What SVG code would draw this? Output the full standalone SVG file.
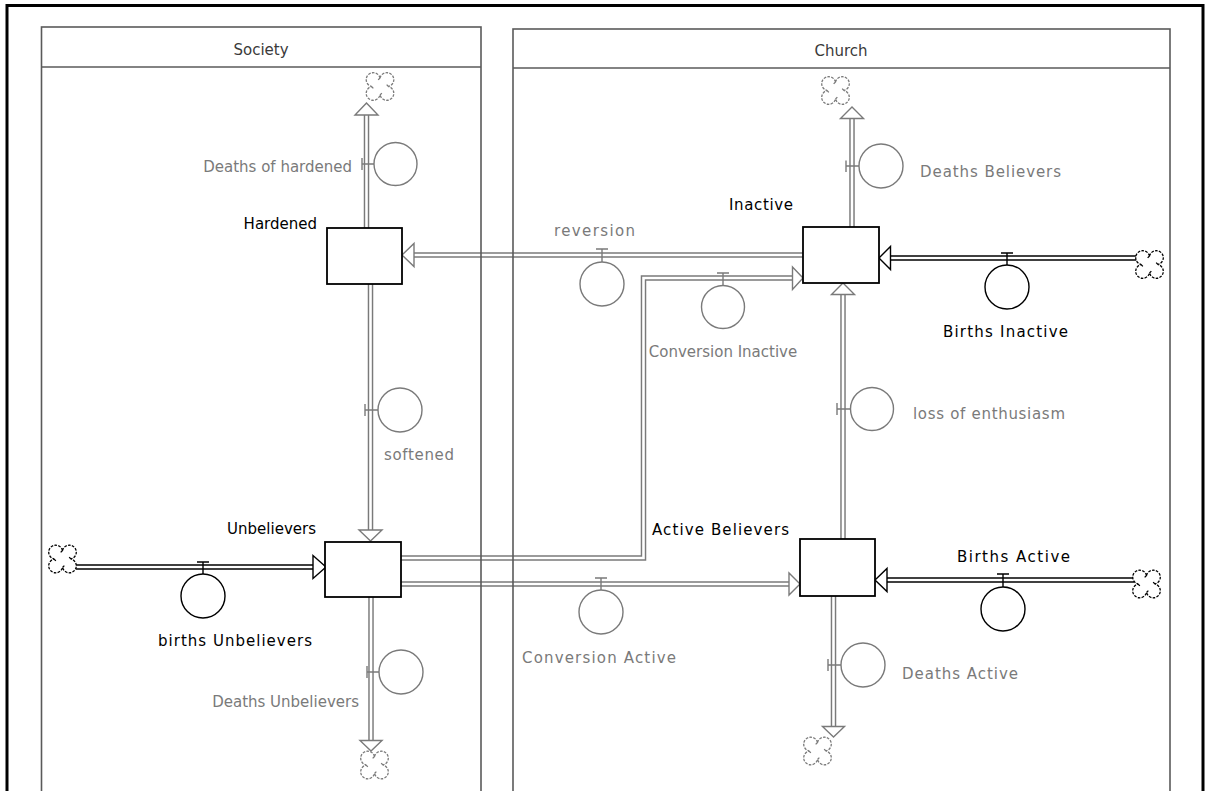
<svg xmlns="http://www.w3.org/2000/svg" width="1210" height="791" viewBox="0 0 1210 791">
<defs>
<style>
.lbl{font-family:"DejaVu Sans","Liberation Sans",sans-serif;font-size:15px}
.g{fill:#7a7a7a}
.k{fill:#000}
.hd{fill:#3a3a3a;text-anchor:middle}
.po{fill:none;stroke:#7a7a7a;stroke-width:5.5}
.pok{fill:none;stroke:#000;stroke-width:5.5}
.pi{fill:none;stroke:#fff;stroke-width:2.6}
.ah{fill:#fff;stroke:#7a7a7a;stroke-width:1.4;stroke-linejoin:miter}
.ahk{fill:#fff;stroke:#000;stroke-width:1.4}
.vg{fill:none;stroke:#7a7a7a;stroke-width:1.4}
.vk{fill:none;stroke:#000;stroke-width:1.4}
.stock{fill:#fff;stroke:#000;stroke-width:1.8}
.sector{fill:none;stroke:#5a5a5a;stroke-width:1.6}
.cg{fill:#fff;stroke:#7a7a7a;stroke-width:1.3;stroke-dasharray:2.6 1.3}
.ck{fill:#fff;stroke:#000;stroke-width:1.3;stroke-dasharray:2.6 1.3}
</style>
<path id="cloud" d="M0,-8.5 A7 7 0 1 1 8.5,0 A7 7 0 1 1 0,8.5 A7 7 0 1 1 -8.5,0 A7 7 0 1 1 0,-8.5 Z M0,-8.5 l-2,2 M8.5,0 l-2,-2 M0,8.5 l2,-2 M-8.5,0 l2,2"/>
</defs>
<rect x="0" y="0" width="1210" height="791" fill="#fff"/>
<rect x="7" y="5.5" width="1196" height="800" fill="none" stroke="#000" stroke-width="3"/>

<g id="connectors">
  <!-- outer strokes -->
  <path class="po" d="M366.5,228 V115"/>
  <path class="po" d="M852,227 V118"/>
  <path class="po" d="M370.5,284 V530"/>
  <path class="po" d="M803,255 H414"/>
  <path class="po" d="M401,558 H643.5 V278 H793"/>
  <path class="po" d="M401,584 H789"/>
  <path class="po" d="M843,539 V294"/>
  <path class="po" d="M371,597 V741"/>
  <path class="po" d="M833.5,596 V727"/>
  <path class="pok" d="M76,567 H313"/>
  <path class="pok" d="M1137,258 H890"/>
  <path class="pok" d="M1134,580 H887"/>
  <!-- inner strokes -->
  <path class="pi" d="M366.5,229 V114"/>
  <path class="pi" d="M852,228 V117"/>
  <path class="pi" d="M370.5,283 V531"/>
  <path class="pi" d="M804,255 H413"/>
  <path class="pi" d="M400,558 H643.5 V278 H794"/>
  <path class="pi" d="M400,584 H790"/>
  <path class="pi" d="M843,540 V293"/>
  <path class="pi" d="M371,596 V742"/>
  <path class="pi" d="M833.5,595 V728"/>
  <path class="pi" d="M75,567 H314"/>
  <path class="pi" d="M1138,258 H889"/>
  <path class="pi" d="M1135,580 H886"/>
  <!-- arrowheads -->
  <polygon class="ah" points="366.5,103 355,115 378,115"/>
  <polygon class="ah" points="852,107 840.5,118.5 863.5,118.5"/>
  <polygon class="ah" points="370.5,541 359,530 382,530"/>
  <polygon class="ah" points="402,255 414,243.5 414,266.5"/>
  <polygon class="ah" points="803,278 792.5,267 792.5,289.5"/>
  <polygon class="ah" points="800,584 789,573 789,595"/>
  <polygon class="ah" points="843,283 831.5,294.5 854.5,294.5"/>
  <polygon class="ah" points="371,751 360,740.5 382,740.5"/>
  <polygon class="ah" points="833.5,737 822.5,726.5 844.5,726.5"/>
  <polygon class="ahk" points="326,567 313,555.5 313,578.5"/>
  <polygon class="ahk" points="879,258 890.5,246.5 890.5,269.5"/>
  <polygon class="ahk" points="875,580 887,568.5 887,591.5"/>
  <!-- valve stems -->
  <path class="vg" d="M596,249 H608 M602,249 V262"/>
  <path class="vg" d="M717,273 H729 M723,273 V285.5"/>
  <path class="vk" d="M1001,253 H1013 M1007,253 V265"/>
  <path class="vk" d="M197,562 H209 M203,562 V574"/>
  <path class="vg" d="M595,578 H607 M601,578 V590"/>
  <path class="vk" d="M997,574 H1009 M1003,574 V587"/>
  <path class="vg" d="M362,158 V170 M362,164 H374"/>
  <path class="vg" d="M846,160.5 V172 M846,166 H859"/>
  <path class="vg" d="M365,404 V416 M365,410 H378"/>
  <path class="vg" d="M837,403 V415 M837,409 H850.5"/>
  <path class="vg" d="M367,666 V678 M367,672 H379"/>
  <path class="vg" d="M828,659 V671 M828,665 H841"/>
</g>

<g id="sector-society">
  <rect class="sector" x="41.5" y="27" width="439.5" height="780"/>
  <line class="sector" x1="41.5" y1="67" x2="481" y2="67"/>
  <text class="lbl hd" x="261" y="55">Society</text>
</g>
<g id="sector-church">
  <rect class="sector" x="513" y="29" width="657" height="780"/>
  <line class="sector" x1="513" y1="68" x2="1170" y2="68"/>
  <text class="lbl hd" x="841" y="56">Church</text>
</g>

<g id="stock-hardened">
  <rect class="stock" x="327" y="228" width="75" height="56"/>
  <text class="lbl k" x="317" y="229" text-anchor="end">Hardened</text>
</g>
<g id="stock-inactive">
  <rect class="stock" x="803" y="227" width="76" height="56"/>
  <text class="lbl k" x="729" y="210" textLength="64" lengthAdjust="spacing">Inactive</text>
</g>
<g id="stock-unbelievers">
  <rect class="stock" x="325" y="542" width="76" height="55"/>
  <text class="lbl k" x="316" y="534" text-anchor="end">Unbelievers</text>
</g>
<g id="stock-active">
  <rect class="stock" x="800" y="539" width="75" height="57"/>
  <text class="lbl k" x="652" y="535" textLength="137" lengthAdjust="spacing">Active Believers</text>
</g>

<g id="flow-deaths-hardened">
  <circle class="vg" cx="395.5" cy="164" r="21.5"/>
  <text class="lbl g" x="352" y="172" text-anchor="end">Deaths of hardened</text>
</g>
<g id="flow-deaths-believers">
  <circle class="vg" cx="881" cy="166" r="22"/>
  <text class="lbl g" x="920" y="177" textLength="141" lengthAdjust="spacing">Deaths Believers</text>
</g>
<g id="flow-reversion">
  <circle class="vg" cx="602" cy="284" r="22"/>
  <text class="lbl g" x="554" y="236" textLength="81" lengthAdjust="spacing">reversion</text>
</g>
<g id="flow-conversion-inactive">
  <circle class="vg" cx="723" cy="307" r="21.5"/>
  <text class="lbl g" x="723" y="357" text-anchor="middle">Conversion Inactive</text>
</g>
<g id="flow-births-inactive">
  <circle class="vk" cx="1007" cy="287" r="22"/>
  <text class="lbl k" x="943" y="337" textLength="125" lengthAdjust="spacing">Births Inactive</text>
</g>
<g id="flow-softened">
  <circle class="vg" cx="400" cy="410" r="22"/>
  <text class="lbl g" x="384" y="460" textLength="70" lengthAdjust="spacing">softened</text>
</g>
<g id="flow-loss">
  <circle class="vg" cx="872" cy="409" r="21.5"/>
  <text class="lbl g" x="913" y="419" textLength="152" lengthAdjust="spacing">loss of enthusiasm</text>
</g>
<g id="flow-births-unbelievers">
  <circle class="vk" cx="203" cy="596" r="22"/>
  <text class="lbl k" x="158" y="646" textLength="154" lengthAdjust="spacing">births Unbelievers</text>
</g>
<g id="flow-conversion-active">
  <circle class="vg" cx="601" cy="612" r="22"/>
  <text class="lbl g" x="522" y="663" textLength="154" lengthAdjust="spacing">Conversion Active</text>
</g>
<g id="flow-births-active">
  <circle class="vk" cx="1003" cy="609" r="22"/>
  <text class="lbl k" x="957" y="562" textLength="113" lengthAdjust="spacing">Births Active</text>
</g>
<g id="flow-deaths-unbelievers">
  <circle class="vg" cx="401" cy="672" r="22"/>
  <text class="lbl g" x="359" y="707" text-anchor="end">Deaths Unbelievers</text>
</g>
<g id="flow-deaths-active">
  <circle class="vg" cx="863" cy="665" r="22"/>
  <text class="lbl g" x="902" y="679" textLength="116" lengthAdjust="spacing">Deaths Active</text>
</g>

<g id="clouds">
  <use href="#cloud" class="cg" x="380" y="86.5"/>
  <use href="#cloud" class="cg" x="835.5" y="90.5"/>
  <use href="#cloud" class="ck" x="1149.5" y="264.5"/>
  <use href="#cloud" class="ck" x="62.5" y="559"/>
  <use href="#cloud" class="ck" x="1146.5" y="584"/>
  <use href="#cloud" class="cg" x="374.5" y="765"/>
  <use href="#cloud" class="cg" x="817.5" y="751"/>
</g>
</svg>
